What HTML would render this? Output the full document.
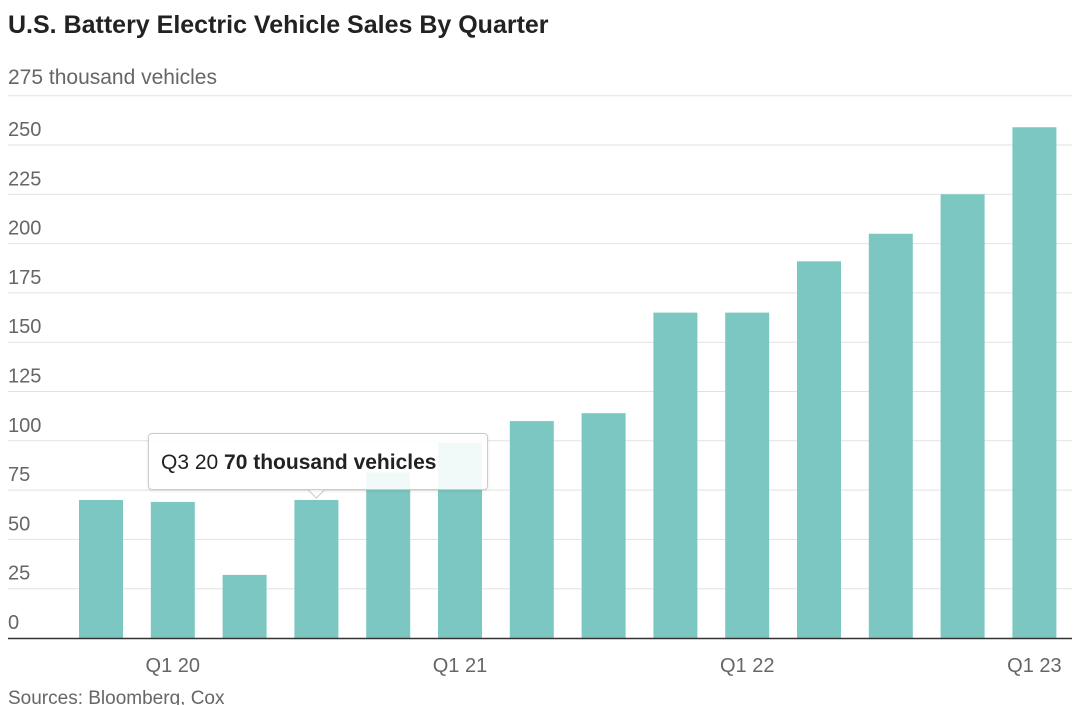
<!DOCTYPE html>
<html><head><meta charset="utf-8"><style>
body{margin:0;background:#fff;font-family:"Liberation Sans",sans-serif;}
#wrap{position:relative;width:1080px;height:705px;overflow:hidden;}
.title{position:absolute;left:8px;top:11px;font-size:25px;font-weight:bold;color:#222;}
.unit{position:absolute;left:8px;top:66px;font-size:21px;color:#666;}
.src{position:absolute;left:8px;top:688px;font-size:19px;color:#666;}
.tip{position:absolute;left:148px;top:433px;width:340px;height:57px;border:1px solid #ccc;border-radius:4px;background:rgba(255,255,255,0.9);font-size:21px;color:#222;line-height:57px;box-sizing:border-box;padding-left:12px;box-shadow:0 1px 3px rgba(0,0,0,0.1);}
</style></head><body>
<div id="wrap">
<div class="title">U.S. Battery Electric Vehicle Sales By Quarter</div>
<div class="unit">275 thousand vehicles</div>
<svg id="svg" width="1080" height="705" style="position:absolute;left:0;top:0"></svg>
<div class="tip">Q3 20 <b>70 thousand vehicles</b></div>
<div class="src">Sources: Bloomberg, Cox</div>
</div>
<script>
const categories=["Q4 19","Q1 20","Q2 20","Q3 20","Q4 20","Q1 21","Q2 21","Q3 21","Q4 21","Q1 22","Q2 22","Q3 22","Q4 22","Q1 23"];
const values=[70,69,32,70,84,99,110,114,165,165,191,205,225,259];
const yTicks=[0,25,50,75,100,125,150,175,200,225,250,275];
const xLabels=["Q1 20","Q1 21","Q1 22","Q1 23"];
const svg=document.getElementById('svg');const NS="http://www.w3.org/2000/svg";
const y=v=>638-v*1.972;
const x0=79,step=71.8,bw=44;
const x=i=>x0+i*step;
function mk(t,a){const e=document.createElementNS(NS,t);for(const k in a)e.setAttribute(k,a[k]);svg.appendChild(e);return e;}
yTicks.forEach(t=>{
 if(t>0){const l=mk('line',{x1:8,x2:1072,y1:y(t),y2:y(t),stroke:'#e2e2e2','stroke-width':1});
 
 }
 if(t===275)return;
 const tx=mk('text',{x:8,y:y(t)-9,'font-size':20,fill:'#666','font-family':'Liberation Sans'});tx.textContent=t;
 
 
});
values.forEach((v,i)=>{const r=mk('rect',{x:x(i),y:y(v),width:bw,height:638-y(v),fill:'#7cc7c2'});
 
 });
const ax=mk('line',{x1:8,x2:1072,y1:638.5,y2:638.5,stroke:'#333','stroke-width':1.5});


xLabels.forEach(l=>{const i=categories.indexOf(l);const t=mk('text',{x:x(i)+bw/2,y:672,'font-size':20,fill:'#666','text-anchor':'middle','font-family':'Liberation Sans'});t.textContent=l;
 
 });
const ar=mk('path',{d:`M${x(3)+bw/2-8} 490 L${x(3)+bw/2} 498 L${x(3)+bw/2+8} 490`,fill:'#fff',stroke:'#ccc'});


</script>
</body></html>
